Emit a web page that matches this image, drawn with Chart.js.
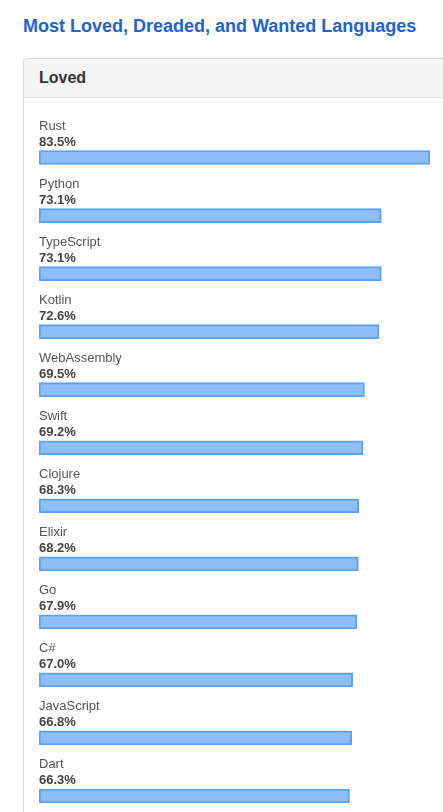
<!DOCTYPE html>
<html>
<head>
<meta charset="utf-8">
<script src="https://cdn.jsdelivr.net/npm/chart.js@4"></script>
<style>
    html, body { margin: 0; padding: 0; background: #fff; overflow: hidden; }
    body { width: 443px; height: 812px; position: relative; font-family: "Liberation Sans", Arial, sans-serif; }
    h1 {
        position: absolute; left: 23px; top: 16px; margin: 0;
        font-size: 18px; font-weight: bold; color: #1b63d9;
    }
    .panel {
        position: absolute; left: 23px; top: 58px; width: 440px; height: 800px;
        border: 1px solid #ddd; border-radius: 4px 0 0 0; box-sizing: border-box;
    }
    .panel-head {
        height: 38px; background: #f4f4f4; border-bottom: 1px solid #ddd;
        font-size: 16px; font-weight: bold; color: #333;
        padding-left: 15px; line-height: 37px; border-radius: 4px 0 0 0;
    }
    .wrap { position: absolute; left: 39px; top: 100px; width: 391px; height: 725px; }
</style>
</head>
<body>
<h1>Most Loved, Dreaded, and Wanted Languages</h1>
<div class="panel"><div class="panel-head">Loved</div></div>
<div class="wrap"><canvas id="loved"></canvas></div>
<script>
// Loved languages (% of developers)
const languages = ['Rust', 'Python', 'TypeScript', 'Kotlin', 'WebAssembly', 'Swift',
    'Clojure', 'Elixir', 'Go', 'C#', 'JavaScript', 'Dart'];
const lovedPct = [83.5, 73.1, 73.1, 72.6, 69.5, 69.2, 68.3, 68.2, 67.9, 67.0, 66.8, 66.3];

// draws the name + value above each bar
const rowLabels = {
    id: 'rowLabels',
    afterDatasetsDraw(chart) {
        const { ctx } = chart;
        const meta = chart.getDatasetMeta(0);
        ctx.save();
        ctx.textAlign = 'left';
        ctx.textBaseline = 'alphabetic';
        meta.data.forEach((bar, i) => {
            const x = chart.chartArea.left;
            ctx.font = '13px "Liberation Sans", Arial, sans-serif';
            ctx.fillStyle = '#555';
            ctx.fillText(languages[i], x, bar.y - 27.5);
            ctx.font = 'bold 13px "Liberation Sans", Arial, sans-serif';
            ctx.fillStyle = '#444';
            ctx.fillText(lovedPct[i].toFixed(1) + '%', x, bar.y - 11.5);
        });
        ctx.restore();
    }
};

new Chart(document.getElementById('loved'), {
    type: 'bar',
    data: {
        labels: languages,
        datasets: [{
            data: lovedPct,
            backgroundColor: '#8ebefa',
            borderColor: '#5ba2f3',
            borderWidth: 2,
            borderSkipped: false,
            barThickness: 14,
        }],
    },
    options: {
        indexAxis: 'y',
        responsive: true,
        maintainAspectRatio: false,
        animation: false,
        layout: { padding: { top: 28.5, left: 0, right: 0, bottom: 0 } },
        plugins: { legend: { display: false }, tooltip: { enabled: false } },
        scales: {
            x: { display: false, min: 0, max: Math.max(...lovedPct) },
            y: { display: false },
        },
    },
    plugins: [rowLabels],
});
</script>
</body>
</html>
